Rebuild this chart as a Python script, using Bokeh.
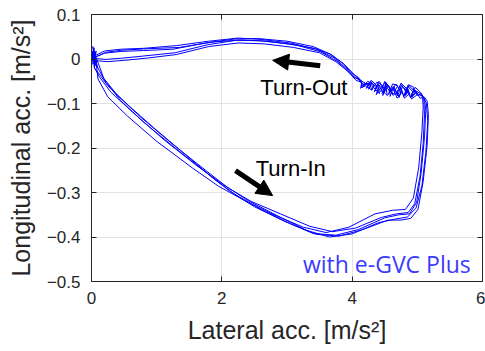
from bokeh.plotting import figure
from bokeh.models import (Range1d, FixedTicker, LinearAxis, Arrow, NormalHead,
                          Label, ColumnDataSource)
from bokeh.embed import file_html
from bokeh.resources import INLINE

# ---------------- data ----------------
x_loop1 = [0.00, 0.04, 0.02, 0.07, 0.04, 0.12, 0.30, 0.62, 1.10, 1.60, 2.00, 2.40, 2.85, 3.30, 3.65, 4.00, 4.40, 4.65, 4.85, 4.98, 5.07, 5.13, 5.16, 5.14, 5.09,
           5.02, 4.95, 4.90, 4.93, 4.86, 4.80, 4.84, 4.76, 4.70, 4.66, 4.70, 4.62, 4.56, 4.58, 4.50, 4.44, 4.47, 4.38, 4.30, 4.33, 4.24, 4.17, 4.20, 4.12,
           4.03, 3.90, 3.72, 3.45, 3.05, 2.60, 2.25, 1.80, 1.30, 0.80, 0.45, 0.20, 0.06, 0.00]
y_loop1 = [0.000, 0.025, -0.012, 0.018, -0.018, -0.040, -0.075, -0.118, -0.180, -0.238, -0.280, -0.318, -0.352, -0.385, -0.400, -0.393, -0.368, -0.360, -0.355, -0.335, -0.285, -0.210, -0.140, -0.100, -0.084,
           -0.080, -0.070, -0.086, -0.074, -0.062, -0.084, -0.078, -0.058, -0.082, -0.070, -0.060, -0.056, -0.080, -0.066, -0.050, -0.074, -0.060, -0.052, -0.070, -0.058, -0.050, -0.062, -0.054, -0.048,
           -0.040, -0.020, 0.003, 0.022, 0.036, 0.044, 0.047, 0.040, 0.030, 0.024, 0.022, 0.018, 0.008, 0.000]

x_loop2 = [0.00, 0.03, 0.06, 0.02, 0.08, 0.18, 0.40, 0.75, 1.25, 1.75, 2.10, 2.45, 2.90, 3.35, 3.70, 4.05, 4.45, 4.68, 4.86, 4.96, 5.04, 5.09, 5.11, 5.10, 5.05,
           4.98, 4.92, 4.95, 4.87, 4.82, 4.85, 4.77, 4.72, 4.75, 4.67, 4.60, 4.63, 4.55, 4.49, 4.52, 4.43, 4.37, 4.40, 4.31, 4.25, 4.28, 4.19, 4.13, 4.15,
           4.05, 3.88, 3.65, 3.40, 3.00, 2.55, 2.20, 1.75, 1.25, 0.80, 0.45, 0.20, 0.05, 0.00]
y_loop2 = [0.000, 0.020, -0.008, 0.028, -0.015, -0.042, -0.082, -0.130, -0.192, -0.250, -0.290, -0.320, -0.348, -0.376, -0.388, -0.380, -0.356, -0.348, -0.345, -0.325, -0.265, -0.190, -0.125, -0.092, -0.078,
           -0.072, -0.086, -0.064, -0.058, -0.080, -0.072, -0.062, -0.086, -0.074, -0.056, -0.072, -0.082, -0.060, -0.076, -0.052, -0.066, -0.080, -0.064, -0.050, -0.068, -0.058, -0.054, -0.066, -0.050,
           -0.038, -0.012, 0.012, 0.028, 0.040, 0.046, 0.045, 0.036, 0.022, 0.019, 0.017, 0.013, 0.004, 0.000]

x_loop3 = [0.00, 0.05, 0.03, 0.09, 0.05, 0.20, 0.45, 0.80, 1.30, 1.80, 2.15, 2.50, 2.95, 3.40, 3.75, 4.10, 4.50, 4.72, 4.88, 4.99, 5.06, 5.11, 5.13, 5.11, 5.06,
           5.00, 4.94, 4.97, 4.89, 4.83, 4.86, 4.79, 4.73, 4.68, 4.71, 4.63, 4.57, 4.60, 4.52, 4.46, 4.49, 4.40, 4.34, 4.37, 4.28, 4.22, 4.25, 4.16, 4.12,
           4.04, 3.92, 3.75, 3.50, 3.10, 2.65, 2.25, 1.80, 1.30, 0.85, 0.50, 0.25, 0.08, 0.00]
y_loop3 = [0.000, -0.010, 0.022, -0.020, 0.012, -0.048, -0.094, -0.142, -0.202, -0.260, -0.300, -0.332, -0.364, -0.392, -0.396, -0.383, -0.357, -0.350, -0.348, -0.322, -0.255, -0.175, -0.115, -0.090, -0.077,
           -0.082, -0.066, -0.078, -0.086, -0.064, -0.074, -0.082, -0.060, -0.078, -0.084, -0.062, -0.076, -0.068, -0.054, -0.078, -0.066, -0.058, -0.074, -0.062, -0.052, -0.066, -0.056, -0.060, -0.046,
           -0.042, -0.026, -0.006, 0.014, 0.026, 0.034, 0.036, 0.028, 0.010, 0.002, -0.003, -0.006, -0.004, 0.000]

x_loop4 = [0.00, 0.02, 0.06, 0.03, 0.07, 0.10, 0.25, 0.55, 1.00, 1.55, 1.95, 2.35, 2.80, 3.25, 3.60, 3.95, 4.35, 4.62, 4.82, 4.94, 5.02, 5.07, 5.09, 5.08, 5.03,
           4.97, 4.91, 4.94, 4.86, 4.80, 4.83, 4.75, 4.69, 4.72, 4.64, 4.58, 4.61, 4.53, 4.47, 4.50, 4.41, 4.35, 4.38, 4.29, 4.23, 4.26, 4.18, 4.12, 4.10,
           3.98, 3.86, 3.68, 3.42, 3.02, 2.58, 2.22, 1.78, 1.28, 0.82, 0.48, 0.22, 0.07, 0.00]
y_loop4 = [0.000, 0.018, -0.015, 0.024, -0.006, -0.045, -0.085, -0.128, -0.185, -0.245, -0.286, -0.318, -0.350, -0.378, -0.390, -0.378, -0.348, -0.340, -0.338, -0.312, -0.245, -0.165, -0.108, -0.084, -0.072,
           -0.064, -0.080, -0.070, -0.058, -0.082, -0.066, -0.054, -0.078, -0.086, -0.062, -0.084, -0.070, -0.056, -0.082, -0.068, -0.050, -0.072, -0.060, -0.048, -0.064, -0.054, -0.058, -0.050, -0.042,
           -0.030, -0.010, 0.010, 0.024, 0.034, 0.041, 0.042, 0.032, 0.014, 0.007, 0.002, -0.001, 0.001, 0.000]

x_loop5 = [0.00, 0.04, 0.01, 0.05, 0.10, 0.25, 0.55, 0.95, 1.45, 1.90, 2.20, 2.60, 3.05, 3.45, 3.80, 4.15, 4.55, 4.75, 4.90, 5.01, 5.09, 5.15, 5.17, 5.15, 5.11,
           5.04, 4.97, 5.00, 4.91, 4.85, 4.88, 4.80, 4.74, 4.77, 4.69, 4.63, 4.66, 4.57, 4.51, 4.54, 4.45, 4.39, 4.42, 4.33, 4.27, 4.30, 4.21, 4.15, 4.14,
           4.06, 3.95, 3.78, 3.52, 3.15, 2.70, 2.30, 1.85, 1.35, 0.85, 0.48, 0.22, 0.07, 0.00]
y_loop5 = [0.000, -0.008, 0.015, -0.022, -0.030, -0.060, -0.102, -0.154, -0.216, -0.272, -0.304, -0.338, -0.370, -0.394, -0.398, -0.384, -0.362, -0.362, -0.358, -0.338, -0.275, -0.195, -0.125, -0.094, -0.086,
           -0.088, -0.070, -0.080, -0.090, -0.066, -0.078, -0.088, -0.064, -0.074, -0.088, -0.066, -0.080, -0.072, -0.058, -0.082, -0.070, -0.056, -0.078, -0.064, -0.054, -0.070, -0.060, -0.064, -0.052,
           -0.048, -0.030, -0.006, 0.016, 0.031, 0.040, 0.043, 0.038, 0.026, 0.023, 0.020, 0.015, 0.005, 0.000]

x_ticks = [0, 2, 4, 6]
y_ticks = [-0.5, -0.4, -0.3, -0.2, -0.1, 0.0, 0.1]
y_tick_labels = ["\u22120.5", "\u22120.4", "\u22120.3", "\u22120.2", "\u22120.1", "0", "0.1"]

# annotation anchors (data units)
turn_out_arrow = [3.51, -0.015, 2.78, -0.003]
turn_in_arrow = [2.21, -0.251, 2.78, -0.307]
turn_out_text = [2.59, -0.063]
turn_in_text = [2.52, -0.246]
note_text = [5.82, -0.46]

# ---------------- figure ----------------
DARK = "#262626"
LABEL_FONT = "Liberation Sans"

p = figure(width=485, height=351, output_backend="svg", toolbar_location=None,
           x_range=Range1d(0, 6), y_range=Range1d(-0.5, 0.1),
           min_border_left=91, min_border_right=3, min_border_top=14,
           min_border_bottom=70)
p.background_fill_color = "white"
p.border_fill_color = "white"
p.outline_line_color = DARK
p.outline_line_width = 1

for ax in (p.xaxis[0], p.yaxis[0]):
    ax.major_tick_in = 5
    ax.major_tick_out = 0
    ax.minor_tick_line_color = None
    ax.axis_line_color = DARK
    ax.major_tick_line_color = DARK
    ax.major_label_text_color = DARK
    ax.major_label_text_font = LABEL_FONT
    ax.major_label_text_font_size = "17px"
    ax.axis_label_text_font = LABEL_FONT
    ax.axis_label_text_font_size = "25px"
    ax.axis_label_text_font_style = "normal"
    ax.axis_label_text_color = DARK
    ax.major_label_standoff = 10

p.yaxis[0].major_label_standoff = 11
p.xaxis[0].ticker = FixedTicker(ticks=x_ticks)
p.yaxis[0].ticker = FixedTicker(ticks=y_ticks)
p.yaxis[0].major_label_overrides = {v: s for v, s in zip(y_ticks, y_tick_labels)}
p.xaxis[0].axis_label = "Lateral acc. [m/s\u00b2]"
p.yaxis[0].axis_label = "Longitudinal acc. [m/s\u00b2]"
p.xaxis[0].axis_label_standoff = 9
p.yaxis[0].axis_label_standoff = 9

# top / right axes with inward ticks only
top = LinearAxis(ticker=FixedTicker(ticks=x_ticks), major_tick_in=5, major_tick_out=0,
                 minor_tick_line_color=None, axis_line_color=DARK,
                 major_tick_line_color=DARK, major_label_standoff=0,
                 major_label_overrides={v: "" for v in x_ticks})
right = LinearAxis(ticker=FixedTicker(ticks=y_ticks), major_tick_in=5, major_tick_out=0,
                   minor_tick_line_color=None, axis_line_color=DARK,
                   major_tick_line_color=DARK, major_label_standoff=0,
                   major_label_overrides={v: "" for v in y_ticks})
p.add_layout(top, "above")
p.add_layout(right, "right")

p.xgrid.ticker = FixedTicker(ticks=x_ticks)
p.ygrid.ticker = FixedTicker(ticks=y_ticks)
p.grid.grid_line_color = "#e3e3e3"
p.grid.grid_line_width = 1

src = ColumnDataSource(dict(
    xs=[x_loop1, x_loop2, x_loop3, x_loop4, x_loop5],
    ys=[y_loop1, y_loop2, y_loop3, y_loop4, y_loop5]))
p.multi_line("xs", "ys", source=src, line_color="#0000ff", line_width=1,
             line_join="round")

for a in (turn_out_arrow, turn_in_arrow):
    p.add_layout(Arrow(end=NormalHead(size=16, fill_color="black", line_color="black"),
                       x_start=a[0], y_start=a[1], x_end=a[2], y_end=a[3],
                       line_color="black", line_width=5))

p.add_layout(Label(x=turn_out_text[0], y=turn_out_text[1], text="Turn-Out",
                   text_font=LABEL_FONT, text_font_size="22px",
                   text_baseline="middle", text_color="black"))
p.add_layout(Label(x=turn_in_text[0], y=turn_in_text[1], text="Turn-In",
                   text_font=LABEL_FONT, text_font_size="22px",
                   text_baseline="middle", text_color="black"))
p.add_layout(Label(x=note_text[0], y=note_text[1], text="with e-GVC Plus",
                   text_font="Open Sans", text_font_size="23px",
                   text_align="right", text_baseline="middle", text_color="#3b3bff"))

open("out.html", "w").write(file_html(p, INLINE))
